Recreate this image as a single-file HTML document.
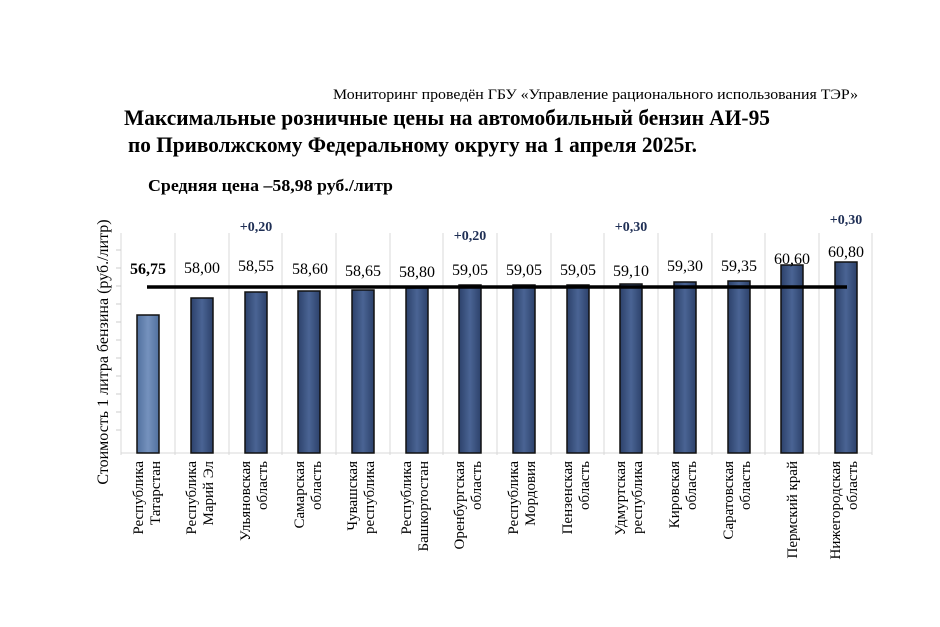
<!DOCTYPE html>
<html><head><meta charset="utf-8"><style>body{margin:0;background:#fff}svg{display:block}</style></head><body>
<svg width="940" height="627" xmlns="http://www.w3.org/2000/svg" font-family="Liberation Serif, serif">
<defs>
<linearGradient id="g" x1="0" x2="1"><stop offset="0" stop-color="#2c416a"/><stop offset="0.5" stop-color="#4a6494"/><stop offset="1" stop-color="#2c416a"/></linearGradient>
<linearGradient id="g1" x1="0" x2="1"><stop offset="0" stop-color="#51709e"/><stop offset="0.5" stop-color="#7592bd"/><stop offset="1" stop-color="#51709e"/></linearGradient>
</defs>
<text x="333" y="99" font-size="15" textLength="525" lengthAdjust="spacingAndGlyphs">Мониторинг проведён ГБУ «Управление рационального использования ТЭР»</text>
<text x="124" y="125" font-size="22" font-weight="bold" textLength="646" lengthAdjust="spacingAndGlyphs">Максимальные  розничные цены на автомобильный бензин АИ-95</text>
<text x="128" y="152" font-size="22" font-weight="bold" textLength="569" lengthAdjust="spacingAndGlyphs">по Приволжскому Федеральному округу на 1 апреля  2025г.</text>
<text x="148" y="191" font-size="17" font-weight="bold" textLength="245" lengthAdjust="spacingAndGlyphs">Средняя цена –58,98 руб./литр</text>
<text transform="translate(108,352) rotate(-90)" text-anchor="middle" font-size="16">Стоимость 1 литра бензина  (руб./литр)</text>
<g stroke="#d8d8d8" stroke-width="1">
<line x1="121" y1="233" x2="121" y2="455"/>
<line x1="175" y1="233" x2="175" y2="455"/><line x1="229" y1="233" x2="229" y2="455"/><line x1="282" y1="233" x2="282" y2="455"/><line x1="336" y1="233" x2="336" y2="455"/><line x1="390" y1="233" x2="390" y2="455"/><line x1="443" y1="233" x2="443" y2="455"/><line x1="497" y1="233" x2="497" y2="455"/><line x1="551" y1="233" x2="551" y2="455"/><line x1="604" y1="233" x2="604" y2="455"/><line x1="658" y1="233" x2="658" y2="455"/><line x1="712" y1="233" x2="712" y2="455"/><line x1="765" y1="233" x2="765" y2="455"/><line x1="819" y1="233" x2="819" y2="455"/><line x1="872" y1="233" x2="872" y2="455"/>
<line x1="121" y1="453" x2="872" y2="453"/>
</g>
<g stroke="#cccccc"><line x1="116" y1="250" x2="121" y2="250"/><line x1="116" y1="268" x2="121" y2="268"/><line x1="116" y1="286" x2="121" y2="286"/><line x1="116" y1="304" x2="121" y2="304"/><line x1="116" y1="322" x2="121" y2="322"/><line x1="116" y1="340" x2="121" y2="340"/><line x1="116" y1="358" x2="121" y2="358"/><line x1="116" y1="376" x2="121" y2="376"/><line x1="116" y1="394" x2="121" y2="394"/><line x1="116" y1="412" x2="121" y2="412"/><line x1="116" y1="430" x2="121" y2="430"/></g>
<g stroke="#111" stroke-width="1.5">
<rect x="137" y="315" width="22" height="138" fill="url(#g1)"/>
<rect x="191" y="298" width="22" height="155" fill="url(#g)"/>
<rect x="245" y="292" width="22" height="161" fill="url(#g)"/>
<rect x="298" y="291" width="22" height="162" fill="url(#g)"/>
<rect x="352" y="290" width="22" height="163" fill="url(#g)"/>
<rect x="406" y="288" width="22" height="165" fill="url(#g)"/>
<rect x="459" y="285" width="22" height="168" fill="url(#g)"/>
<rect x="513" y="285" width="22" height="168" fill="url(#g)"/>
<rect x="567" y="285" width="22" height="168" fill="url(#g)"/>
<rect x="620" y="284" width="22" height="169" fill="url(#g)"/>
<rect x="674" y="282" width="22" height="171" fill="url(#g)"/>
<rect x="728" y="281" width="22" height="172" fill="url(#g)"/>
<rect x="781" y="265" width="22" height="188" fill="url(#g)"/>
<rect x="835" y="262" width="22" height="191" fill="url(#g)"/>
</g>
<line x1="147" y1="287" x2="847" y2="287" stroke="#000" stroke-width="3.5"/>
<g font-size="16" text-anchor="middle">
<text x="148" y="274" font-weight="bold">56,75</text>
<text x="202" y="273">58,00</text>
<text x="256" y="271">58,55</text>
<text x="310" y="274">58,60</text>
<text x="363" y="276">58,65</text>
<text x="417" y="277">58,80</text>
<text x="470" y="275">59,05</text>
<text x="524" y="275">59,05</text>
<text x="578" y="275">59,05</text>
<text x="631" y="276">59,10</text>
<text x="685" y="271">59,30</text>
<text x="739" y="271">59,35</text>
<text x="792" y="264">60,60</text>
<text x="846" y="257">60,80</text>
</g>
<g font-size="14" font-weight="bold" fill="#1f2f55" text-anchor="middle">
<text x="256" y="231">+0,20</text>
<text x="470" y="240">+0,20</text>
<text x="631" y="231">+0,30</text>
<text x="846" y="224">+0,30</text>
</g>
<g font-size="15">
<text transform="translate(143,461) rotate(-90)" text-anchor="end"><tspan x="0" dy="0">Республика</tspan><tspan x="0" dy="17">Татарстан</tspan></text>
<text transform="translate(196,461) rotate(-90)" text-anchor="end"><tspan x="0" dy="0">Республика</tspan><tspan x="0" dy="17">Марий Эл</tspan></text>
<text transform="translate(250,461) rotate(-90)" text-anchor="end"><tspan x="0" dy="0">Ульяновская</tspan><tspan x="0" dy="17">область</tspan></text>
<text transform="translate(304,461) rotate(-90)" text-anchor="end"><tspan x="0" dy="0">Самарская</tspan><tspan x="0" dy="17">область</tspan></text>
<text transform="translate(357,461) rotate(-90)" text-anchor="end"><tspan x="0" dy="0">Чувашская</tspan><tspan x="0" dy="17">республика</tspan></text>
<text transform="translate(411,461) rotate(-90)" text-anchor="end"><tspan x="0" dy="0">Республика</tspan><tspan x="0" dy="17">Башкортостан</tspan></text>
<text transform="translate(464,461) rotate(-90)" text-anchor="end"><tspan x="0" dy="0">Оренбургская</tspan><tspan x="0" dy="17">область</tspan></text>
<text transform="translate(518,461) rotate(-90)" text-anchor="end"><tspan x="0" dy="0">Республика</tspan><tspan x="0" dy="17">Мордовия</tspan></text>
<text transform="translate(572,461) rotate(-90)" text-anchor="end"><tspan x="0" dy="0">Пензенская</tspan><tspan x="0" dy="17">область</tspan></text>
<text transform="translate(625,461) rotate(-90)" text-anchor="end"><tspan x="0" dy="0">Удмуртская</tspan><tspan x="0" dy="17">республика</tspan></text>
<text transform="translate(679,461) rotate(-90)" text-anchor="end"><tspan x="0" dy="0">Кировская</tspan><tspan x="0" dy="17">область</tspan></text>
<text transform="translate(733,461) rotate(-90)" text-anchor="end"><tspan x="0" dy="0">Саратовская</tspan><tspan x="0" dy="17">область</tspan></text>
<text transform="translate(797,461) rotate(-90)" text-anchor="end">Пермский край</text>
<text transform="translate(840,461) rotate(-90)" text-anchor="end"><tspan x="0" dy="0">Нижегородская</tspan><tspan x="0" dy="17">область</tspan></text>
</g>
</svg>
</body></html>
